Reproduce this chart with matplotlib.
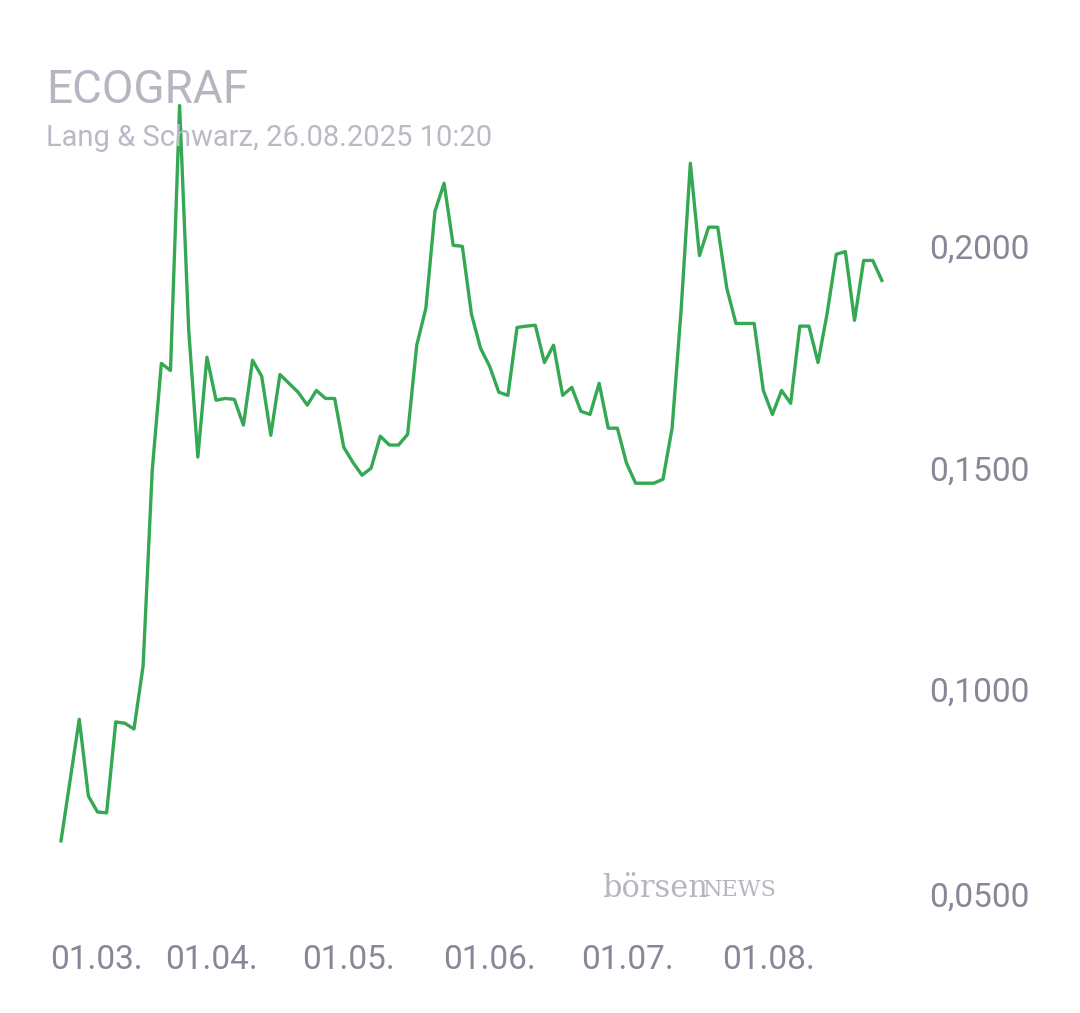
import numpy as np
import matplotlib.pyplot as plt
from matplotlib.transforms import blended_transform_factory

# daily closing prices (EUR), one per trading day
prices = [0.0667, 0.0941, 0.0768, 0.0732, 0.0730, 0.0935, 0.0932, 0.0919, 0.1061, 0.1502,
          0.1743, 0.1727, 0.2324, 0.1818, 0.1532, 0.1757, 0.1660, 0.1664, 0.1662, 0.1604,
          0.1750, 0.1714, 0.1581, 0.1718, 0.1698, 0.1678, 0.1649, 0.1682, 0.1664, 0.1664,
          0.1554, 0.1520, 0.1491, 0.1507, 0.1579, 0.1559, 0.1559, 0.1583, 0.1784, 0.1867,
          0.2086, 0.2149, 0.2009, 0.2007, 0.1854, 0.1777, 0.1736, 0.1678, 0.1671, 0.1824,
          0.1827, 0.1829, 0.1745, 0.1784, 0.1671, 0.1689, 0.1635, 0.1628, 0.1698, 0.1597,
          0.1597, 0.1518, 0.1473, 0.1473, 0.1473, 0.1482, 0.1597, 0.1867, 0.2194, 0.1986,
          0.2050, 0.2050, 0.1912, 0.1833, 0.1833, 0.1833, 0.1682, 0.1628, 0.1682, 0.1653,
          0.1827, 0.1827, 0.1745, 0.1856, 0.1989, 0.1995, 0.1840, 0.1975, 0.1975, 0.1930]
# trading day index (gap after the first quote)
days = [0] + list(range(2, len(prices) + 1))
tick_pos = [3.85, 16.5, 31.5, 47.0, 62.1, 77.6]
tick_labels = ['01.03.', '01.04.', '01.05.', '01.06.', '01.07.', '01.08.']
y_ticks = [0.05, 0.10, 0.15, 0.20]

fig = plt.figure(figsize=(10.8, 10.13), dpi=100)
ax = fig.add_axes([0.05, 0.0977, 0.775, 0.8033])
ax.plot(days, prices, color='#34a853', lw=2.4)
ax.set_xlim(-0.77, 91.0)
ax.set_ylim(0.0502, 0.2336)
ax.axis('off')

grey = '#8a8698'
for v in y_ticks:
    yy = v + (0.004 if v == 0.05 else 0)
    ax.text(1.046, yy, f'{v:.4f}'.replace('.', ','), transform=ax.get_yaxis_transform(),
            ha='left', va='center', fontsize=24, color=grey, family='Roboto')
tr = blended_transform_factory(ax.transData, fig.transFigure)
for p, l in zip(tick_pos, tick_labels):
    ax.text(p, 1 - 960 / 1013, l, transform=tr, ha='center', va='center',
            fontsize=24, color=grey, family='Roboto')

fig.text(46 / 1080, 1 - 90 / 1013, 'ECOGRAF', fontsize=33, color='#b8b5c3',
         family='Roboto', va='center')
fig.text(46 / 1080, 1 - 138 / 1013, 'Lang & Schwarz, 26.08.2025 10:20', fontsize=21,
         color='#bcb9c6', family='Roboto', va='center')
fig.text(602 / 1080, 1 - 888 / 1013, 'börsen', fontsize=22, color='#b8b5c3',
         family='DejaVu Serif', va='center')
fig.text(703 / 1080, 1 - 890 / 1013, 'NEWS', fontsize=16, color='#b8b5c3',
         family='DejaVu Serif', va='center')

fig.savefig('out.png', dpi=100, facecolor='white')
